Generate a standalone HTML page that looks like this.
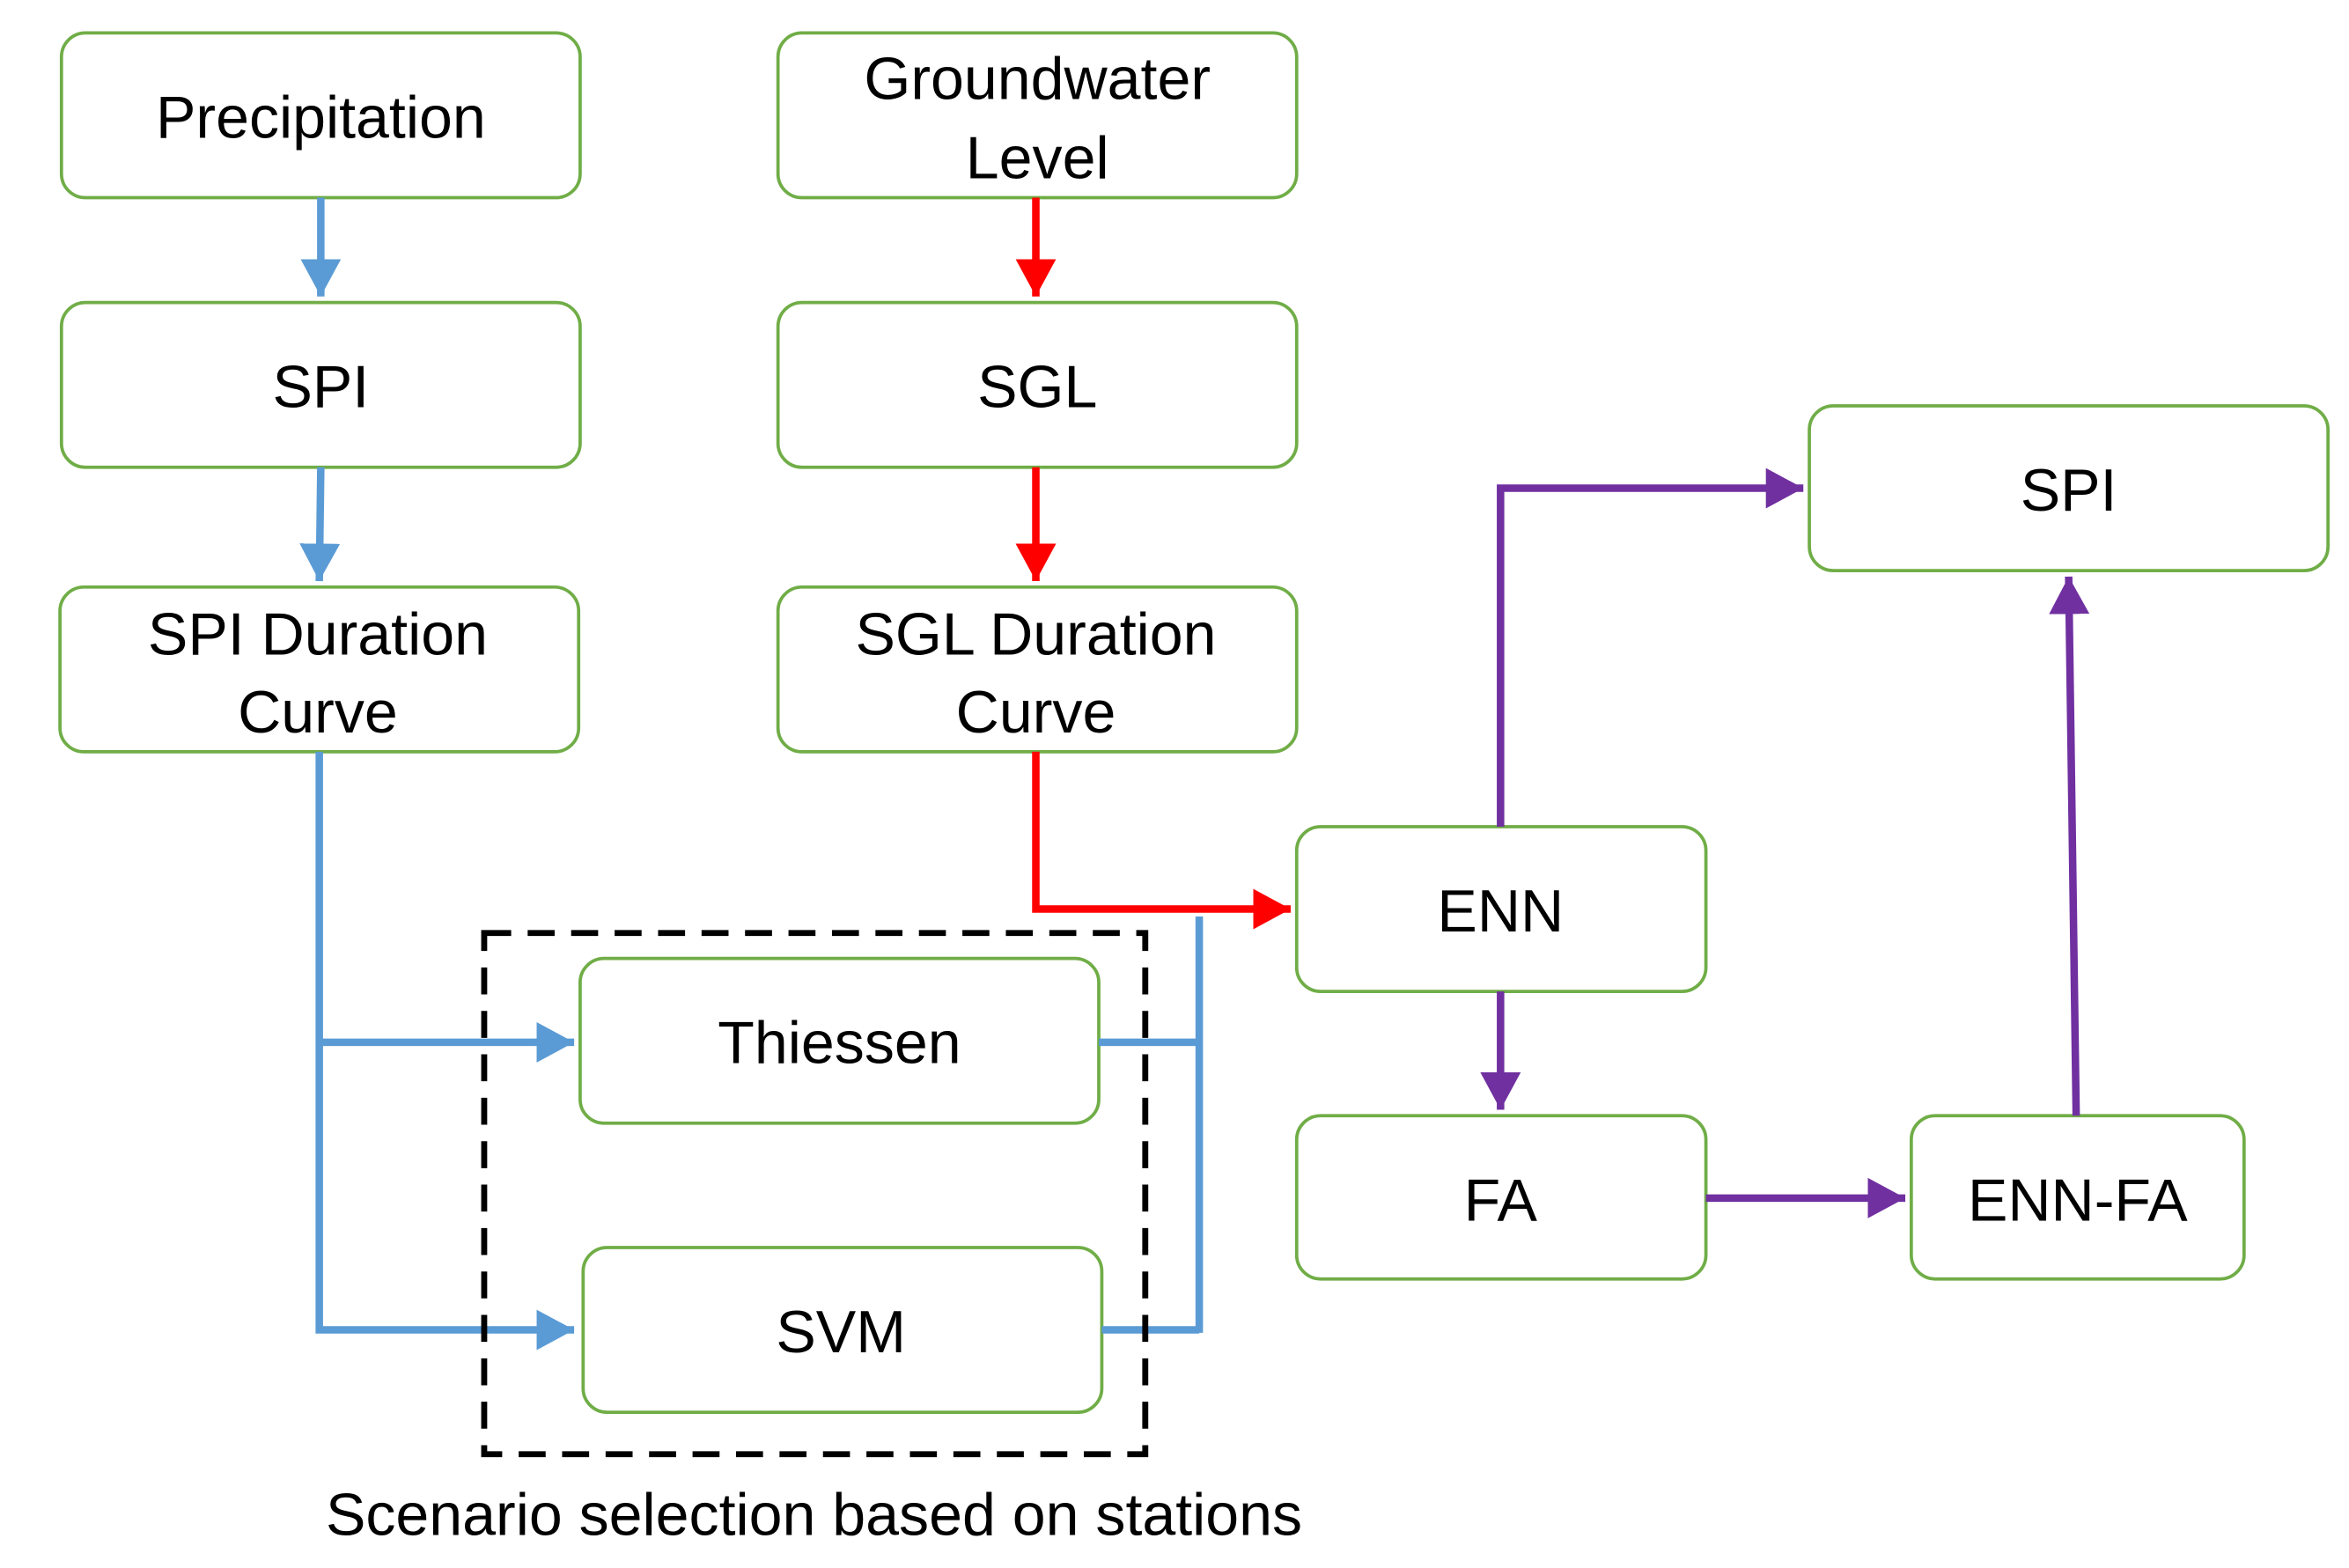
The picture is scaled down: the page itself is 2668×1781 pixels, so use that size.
<!DOCTYPE html>
<html><head><meta charset="utf-8"><style>
html,body{margin:0;padding:0;background:#fff;}
svg{display:block;}
text{font-family:"Liberation Sans",sans-serif;font-size:40px;fill:#000;text-anchor:middle;}
</style></head><body>
<svg width="2668" height="1781" viewBox="0 0 1567 1047" preserveAspectRatio="none">
<defs>
<marker id="ab" markerWidth="6" markerHeight="6" refX="5" refY="3" orient="auto" markerUnits="strokeWidth"><path d="M0,0.3 L5,3 L0,5.7 Z" fill="#5B9BD5"/></marker>
<marker id="ar" markerWidth="6" markerHeight="6" refX="5" refY="3" orient="auto" markerUnits="strokeWidth"><path d="M0,0.3 L5,3 L0,5.7 Z" fill="#FF0000"/></marker>
<marker id="ap" markerWidth="6" markerHeight="6" refX="5" refY="3" orient="auto" markerUnits="strokeWidth"><path d="M0,0.3 L5,3 L0,5.7 Z" fill="#7030A0"/></marker>
</defs>
<g fill="#fff" stroke="#70AD47" stroke-width="2.2">
<rect x="41" y="22" width="346" height="110" rx="16"/>
<rect x="519" y="22" width="346" height="110" rx="16"/>
<rect x="41" y="202" width="346" height="110" rx="16"/>
<rect x="519" y="202" width="346" height="110" rx="16"/>
<rect x="40" y="392" width="346" height="110" rx="16"/>
<rect x="519" y="392" width="346" height="110" rx="16"/>
<rect x="1207" y="271" width="346" height="110" rx="16"/>
<rect x="865" y="552" width="273" height="110" rx="16"/>
<rect x="865" y="745" width="273" height="109" rx="16"/>
<rect x="1275" y="745" width="222" height="109" rx="16"/>
<rect x="387" y="640" width="346" height="110" rx="16"/>
<rect x="389" y="833" width="346" height="110" rx="16"/>
</g>
<g fill="none" stroke-width="5">
<path d="M214,132 V198" stroke="#5B9BD5" marker-end="url(#ab)"/>
<path d="M214,312 L213,388" stroke="#5B9BD5" marker-end="url(#ab)"/>
<path d="M213,502 V888 H383" stroke="#5B9BD5" marker-end="url(#ab)"/>
<path d="M213,696 H383" stroke="#5B9BD5" marker-end="url(#ab)"/>
<path d="M733,696 H800 M735,888 H800 M800,612 V890" stroke="#5B9BD5"/>
<path d="M691,132 V198" stroke="#FF0000" marker-end="url(#ar)"/>
<path d="M691,312 V388" stroke="#FF0000" marker-end="url(#ar)"/>
<path d="M691,502 V607 H861" stroke="#FF0000" marker-end="url(#ar)"/>
<path d="M1001,552 V326 H1203" stroke="#7030A0" marker-end="url(#ap)"/>
<path d="M1001,662 V741" stroke="#7030A0" marker-end="url(#ap)"/>
<path d="M1138,800 H1271" stroke="#7030A0" marker-end="url(#ap)"/>
<path d="M1385,745 L1380,385" stroke="#7030A0" marker-end="url(#ap)"/>
</g>
<rect x="323" y="623" width="441" height="348" fill="none" stroke="#000" stroke-width="4" stroke-dasharray="18,11"/>
<text x="214" y="92">Precipitation</text>
<text x="692" y="66">Groundwater</text>
<text x="692" y="119">Level</text>
<text x="214" y="272">SPI</text>
<text x="692" y="272">SGL</text>
<text x="212" y="437">SPI Duration</text>
<text x="212" y="489">Curve</text>
<text x="691" y="437">SGL Duration</text>
<text x="691" y="489">Curve</text>
<text x="1380" y="341">SPI</text>
<text x="1001" y="622">ENN</text>
<text x="1001" y="815">FA</text>
<text x="1386" y="815">ENN-FA</text>
<text x="560" y="710">Thiessen</text>
<text x="561" y="903">SVM</text>
<text x="543" y="1025">Scenario selection based on stations</text>
</svg>
</body></html>
